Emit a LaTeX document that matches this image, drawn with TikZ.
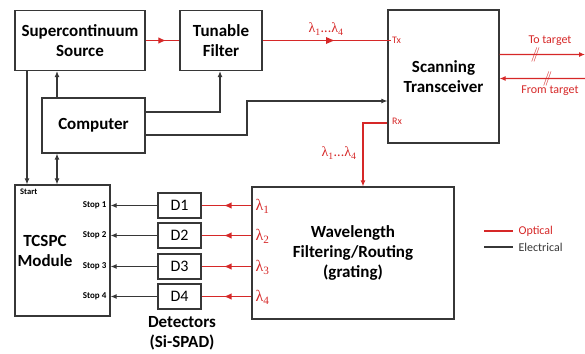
\documentclass[tikz,border=0pt]{standalone}
\usepackage{fontspec}
\setmainfont{Carlito}
\newfontfamily\lamfont{Liberation Serif}
\usetikzlibrary{arrows.meta,positioning,calc,decorations.markings}
\definecolor{optred}{RGB}{214,40,40}
\definecolor{elgray}{RGB}{55,55,55}
\newcommand\lamsub[1]{{\lamfont λ\textsubscript{#1}}}
\begin{document}
\begin{tikzpicture}[x=1bp,y=-1bp,>={Latex[length=6bp,width=5bp]},
 blk/.style={draw=elgray,line width=1.2bp,align=center,inner sep=0pt,font=\bfseries\fontsize{17bp}{20bp}\selectfont},
 det/.style={draw=elgray,line width=1.2bp,minimum width=43bp,minimum height=25bp,inner sep=0pt,font=\fontsize{16bp}{18bp}\selectfont},
 opt/.style={draw=optred,line width=1.1bp},
 ele/.style={draw=elgray,line width=1.1bp},
 midarr/.style={postaction={decorate},decoration={markings,mark=at position #1 with {\arrow[optred]{Latex[length=7.5bp,width=6.5bp]}}}},
 port/.style={text=optred,inner sep=1bp,font=\fontsize{10bp}{12bp}\selectfont},
 stp/.style={anchor=east,inner sep=1bp,font=\bfseries\fontsize{9bp}{10bp}\selectfont},
 lam/.style={text=optred,anchor=west,inner sep=1bp,font=\fontsize{16bp}{18bp}\selectfont},
 brk/.style={text=optred,inner sep=0pt,font=\fontsize{15bp}{16bp}\selectfont},
 small/.style={inner sep=1bp,font=\fontsize{12bp}{14bp}\selectfont}]
\useasboundingbox (0,0) rectangle (585,353);

\node[blk,minimum width=130bp,minimum height=60bp] (src) at (80,40.5) {Supercontinuum\\Source};
\node[blk,minimum width=82bp,minimum height=60bp] (filt) at (221,40.5) {Tunable\\Filter};
\node[blk,minimum width=103bp,minimum height=55bp] (comp) at (93.5,125.5) {Computer};
\node[blk,minimum width=111bp,minimum height=133bp] (trx) at (443.5,76.5) {Scanning\\Transceiver};
\node[blk,minimum width=202bp,minimum height=132bp] (wdm) at (353,253) {Wavelength\\Filtering/Routing\\(grating)};
\node[draw=elgray,line width=1.2bp,minimum width=95bp,minimum height=131bp] (tcspc) at (62.5,250.5) {};
\node[align=center,font=\bfseries\fontsize{17bp}{20bp}\selectfont] (tlab) at (45,251) {TCSPC\\Module};
\node[anchor=north west,inner sep=1bp,font=\bfseries\fontsize{8.5bp}{10bp}\selectfont] (start) at (19,188) {Start};

\node[det] (d1) at (179.5,205.5) {D1};
\node[det] (d2) at (179.5,235.5) {D2};
\node[det] (d3) at (179.5,266.5) {D3};
\node[det] (d4) at (179.5,296.5) {D4};
\node[align=center,font=\bfseries\fontsize{17bp}{20bp}\selectfont] (dlab) at (182,333) {Detectors\\(Si-SPAD)};

\foreach \i in {1,...,4}{
 \node[stp] (s\i) at ([xshift=-3bp]tcspc.east |- d\i) {Stop \i};
 \node[lam] (l\i) at ([xshift=3bp,yshift=-1bp]wdm.west |- d\i) {\lamsub{\i}};
 \draw[opt,midarr=0.55] (wdm.west |- d\i) -- (d\i.east);
 \draw[ele,->] (d\i.west) -- (tcspc.east |- d\i);
}

% optical path
\node[port,anchor=west] (tx) at (391,40.5) {Tx};
\node[port,anchor=west] (rx) at (391,121) {Rx};
\draw[opt,midarr=0.6] (src.east) -- (filt.west);
\coordinate (txa) at (334,40.5);
\draw[opt] (filt.east) -- (tx.west);
\fill[optred] (txa) -- ++(-8,-3.5) -- ++(0,7) -- cycle;
\node[port,font=\fontsize{14bp}{16bp}\selectfont] (lamtx) at (326,29) {\lamsub{1}...\lamsub{4}};
\draw[opt,->] ([yshift=-46.5bp]trx.west) -| ([xshift=10bp]wdm.north);
\node[port,font=\fontsize{14bp}{16bp}\selectfont] (lamrx) at (339,153) {\lamsub{1}...\lamsub{4}};

\coordinate (tgt) at (585,54.5);
\coordinate (ret) at (585,78.5);
\draw[opt,->] ([yshift=22bp]trx.east) -- (tgt) node[brk,pos=0.42] (brk1) {$/\!\!/$};
\draw[opt,->] (ret) -- ([yshift=-2bp]trx.east) node[brk,pos=0.44] (brk2) {$/\!\!/$};
\node[small,text=optred] (tot) at (550,41) {To target};
\node[small,text=optred] (fromt) at (550,91) {From target};

% electrical
\draw[ele,->] ([xshift=-36.5bp]comp.north) -- ([xshift=-36.5bp]comp.north |- src.south);
\draw[ele,->] ([yshift=13.5bp]comp.east) -| ([xshift=-1bp]filt.south);
\coordinate (bend) at (247,101);
\draw[ele,->] ([yshift=-9.5bp]comp.east) -| (bend) -- (bend -| trx.west);
\draw[ele,->] ([xshift=-53bp]src.south) -- ([xshift=-53bp]src.south |- tcspc.north);
\draw[ele,<->] ([xshift=-36.5bp]comp.south) -- ([xshift=-36.5bp]comp.south |- tcspc.north);

% legend
\coordinate (lo) at (484,231);
\coordinate (le) at (484,247);
\draw[opt] (lo) -- ++(29,0) node[small,text=optred,anchor=west,xshift=4bp] (optl) {Optical};
\draw[ele] (le) -- ++(29,0) node[small,text=elgray,anchor=west,xshift=4bp] (elel) {Electrical};
\end{tikzpicture}
\end{document}
